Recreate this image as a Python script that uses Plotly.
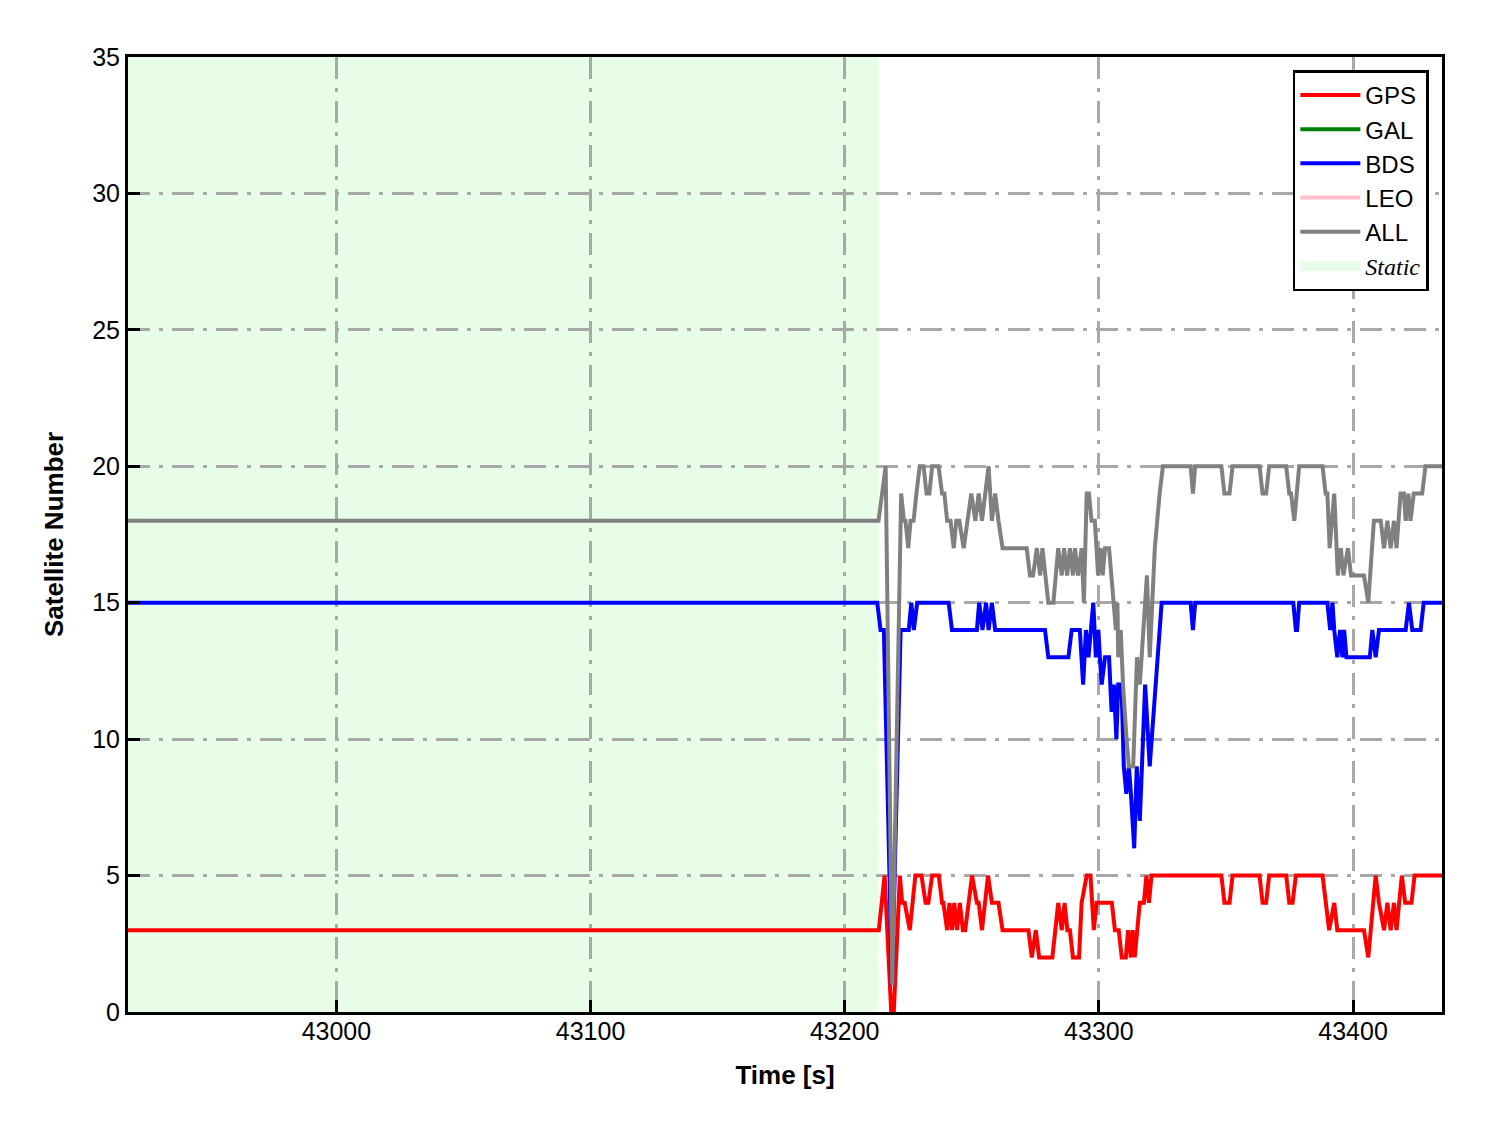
import plotly.graph_objects as go

# ---------------- data ----------------
gps_t = [42918, 43213.4, 43215.7, 43218.3, 43219.3, 43221.7, 43222.6, 43223.6, 43225.6, 43227.8,
         43230.2, 43231.8, 43232.9, 43234.4, 43237.0, 43238.3, 43238.8, 43240.3, 43241.2, 43242.2,
         43243.1, 43244.2, 43245.3, 43246.5, 43247.4, 43250.1, 43252.0, 43252.7, 43254.0, 43256.4,
         43257.9, 43260.5, 43262.1, 43272.3, 43273.6, 43275.2, 43276.5, 43281.7, 43284.0, 43285.4,
         43286.5, 43287.6, 43288.6, 43289.8, 43292.2, 43293.2, 43295.2, 43296.7, 43298.0, 43299.1,
         43305.1, 43306.3, 43307.8, 43309.0, 43310.6, 43311.5, 43312.6, 43313.3, 43314.1, 43315.1,
         43316.1, 43317.7, 43318.7, 43319.7, 43320.7, 43348.2, 43349.4, 43351.4, 43352.6, 43363.2,
         43364.4, 43365.8, 43367.0, 43373.7, 43374.9, 43376.2, 43377.5, 43388.0, 43389.3, 43390.6,
         43392.6, 43393.8, 43404.3, 43406.0, 43408.9, 43410.2, 43412.2, 43413.5, 43414.8, 43416.1,
         43417.1, 43419.2, 43420.5, 43423.0, 43424.2, 43435]
gps_n = [3, 3, 5, 0, 0, 5, 4, 4, 3, 5,
         5, 4, 4, 5, 5, 4, 4, 3, 4, 3,
         4, 3, 4, 3, 3, 5, 4, 4, 3, 5,
         4, 4, 3, 3, 2, 3, 2, 2, 4, 3,
         4, 3, 3, 2, 2, 4, 5, 5, 3, 4,
         4, 3, 3, 2, 2, 3, 2, 3, 2, 3,
         4, 4, 5, 4, 5, 5, 4, 4, 5, 5,
         4, 4, 5, 5, 4, 4, 5, 5, 4, 3,
         4, 3, 3, 2, 5, 4, 3, 4, 3, 4,
         3, 5, 4, 4, 5, 5]

gal_t = [None]
gal_n = [None]

bds_t = [42918, 43212.8, 43214.1, 43215.4, 43218.6, 43222.0, 43225.2, 43226.2, 43227.2, 43228.5,
         43240.9, 43242.2, 43252.0, 43252.9, 43254.2, 43255.6, 43256.6, 43257.9, 43259.2, 43278.8,
         43280.1, 43288.0, 43289.3, 43292.5, 43293.8, 43294.9, 43295.9, 43296.7, 43297.8, 43298.8,
         43299.8, 43300.4, 43301.1, 43302.4, 43304.0, 43305.0, 43305.9, 43306.9, 43307.6, 43308.9,
         43309.8, 43310.8, 43311.8, 43312.6, 43313.9, 43314.9, 43316.1, 43318.2, 43320.0, 43324.7,
         43336.1, 43337.0, 43337.9, 43376.5, 43377.5, 43378.0, 43378.8, 43389.9, 43391.0, 43391.9,
         43392.6, 43393.8, 43394.9, 43395.8, 43396.5, 43397.4, 43406.6, 43407.6, 43408.9, 43410.2,
         43420.7, 43422.0, 43423.3, 43426.6, 43427.8, 43435]
bds_n = [15, 15, 14, 14, 1, 14, 14, 15, 14, 15,
         15, 14, 14, 15, 14, 15, 14, 15, 14, 14,
         13, 13, 14, 14, 12, 14, 13, 14, 15, 13,
         14, 13, 12, 13, 13, 11, 12, 10, 12, 12,
         9, 8, 9, 8, 6, 9, 7, 12, 9, 15,
         15, 14, 15, 15, 14, 14, 15, 15, 14, 15,
         14, 13, 14, 13, 14, 13, 13, 14, 13, 14,
         14, 15, 14, 14, 15, 15]

leo_t = [None]
leo_n = [None]

all_t = [42918, 43213.3, 43216.1, 43218.7, 43222.2, 43223.3, 43223.9, 43225.0, 43225.9, 43227.1,
         43228.2, 43229.5, 43231.0, 43232.2, 43233.3, 43234.4, 43236.9, 43238.3, 43239.2, 43240.3,
         43241.6, 43242.9, 43243.9, 43245.1, 43246.8, 43248.2, 43249.8, 43251.4, 43252.7, 43254.0,
         43256.6, 43257.9, 43259.2, 43260.5, 43262.1, 43271.6, 43272.9, 43274.1, 43275.6, 43276.9,
         43277.8, 43280.1, 43282.1, 43284.0, 43285.4, 43286.3, 43287.5, 43288.6, 43289.8, 43290.6,
         43291.8, 43293.2, 43294.1, 43295.2, 43296.1, 43297.1, 43298.4, 43299.7, 43300.7, 43301.5,
         43302.4, 43304.0, 43305.6, 43306.7, 43307.3, 43307.6, 43308.6, 43309.5, 43310.9, 43311.8,
         43313.5, 43315.0, 43316.1, 43317.4, 43318.9, 43320.0, 43322.0, 43323.9, 43325.2, 43336.1,
         43337.0, 43337.9, 43348.2, 43349.4, 43351.4, 43352.6, 43363.2, 43364.4, 43365.8, 43367.0,
         43373.7, 43374.9, 43375.6, 43376.9, 43378.8, 43388.0, 43389.2, 43389.9, 43390.8, 43392.6,
         43394.0, 43395.2, 43396.2, 43398.0, 43399.2, 43404.3, 43406.0, 43408.2, 43410.9, 43412.2,
         43413.5, 43414.8, 43416.1, 43417.1, 43418.7, 43420.0, 43420.7, 43421.8, 43422.6, 43423.9,
         43427.2, 43428.5, 43435]
all_n = [18, 18, 20, 1, 19, 18, 18, 17, 18, 18,
         19, 20, 20, 19, 19, 20, 20, 19, 19, 18,
         18, 17, 18, 18, 17, 18, 19, 18, 19, 18,
         20, 18, 19, 18, 17, 17, 16, 16, 17, 16,
         17, 15, 15, 17, 16, 17, 16, 17, 16, 17,
         16, 17, 15, 19, 19, 18, 18, 16, 17, 16,
         17, 17, 15, 14, 15, 13, 14, 12, 10, 9,
         9, 13, 12, 14, 16, 13, 17, 19, 20, 20,
         19, 20, 20, 19, 19, 20, 20, 19, 19, 20,
         20, 19, 19, 18, 20, 20, 19, 19, 17, 19,
         16, 17, 16, 17, 16, 16, 15, 18, 18, 17,
         18, 17, 18, 17, 19, 19, 18, 19, 18, 19,
         19, 20, 20]

static_start = 42918
static_end = 43213.3

series_names = ["GPS", "GAL", "BDS", "LEO", "ALL"]
x_ticks = [43000, 43100, 43200, 43300, 43400]
y_ticks = [0, 5, 10, 15, 20, 25, 30, 35]

# ---------------- figure ----------------
FONT = "Liberation Sans, Arial, sans-serif"
colors = {"GPS": "#ff0000", "GAL": "#008000", "BDS": "#0000ff", "LEO": "#ffc0cb", "ALL": "#808080"}
data = {"GPS": (gps_t, gps_n), "GAL": (gal_t, gal_n), "BDS": (bds_t, bds_n),
        "LEO": (leo_t, leo_n), "ALL": (all_t, all_n)}

fig = go.Figure()
for name in series_names:
    t, n = data[name]
    fig.add_trace(go.Scatter(x=t, y=n, mode="lines", name=name,
                             line=dict(color=colors[name], width=4)))

static_fill = "rgb(232,253,232)"
# legend entry for the static period (patch)
fig.add_trace(go.Scatter(x=[None], y=[None], mode="lines",
                         line=dict(width=20, color=static_fill),
                         name='<i><span style="font-family:Liberation Serif">Static</span></i>'))

fig.add_shape(type="rect", xref="x", yref="y", x0=static_start, x1=static_end,
              y0=0, y1=35, fillcolor=static_fill, line=dict(width=0), layer="below")

axis_common = dict(
    showline=True, linecolor="black", linewidth=3, mirror=True,
    ticks="inside", ticklen=12, tickwidth=2.5, tickcolor="black",
    showgrid=True, gridcolor="#a8a8a8", gridwidth=2.5, griddash="22px,9px,4px,9px",
    zeroline=False, tickfont=dict(family=FONT, size=25, color="black"),
)

fig.update_xaxes(range=[42918, 43435], tickvals=x_ticks, ticktext=[str(v) for v in x_ticks],
                 title=dict(text="<b>Time [s]</b>", font=dict(family=FONT, size=26, color="black"),
                            standoff=22),
                 ticklabelstandoff=-5,
                 **axis_common)
fig.update_yaxes(range=[0, 35], tickvals=y_ticks, ticktext=[str(v) for v in y_ticks],
                 title=dict(text="<b>Satellite Number</b>", font=dict(family=FONT, size=26, color="black"),
                            standoff=22),
                 **axis_common)

fig.update_layout(
    width=1488, height=1133,
    margin=dict(l=120, r=54, t=49, b=129),
    paper_bgcolor="white", plot_bgcolor="white",
    font=dict(family=FONT, color="black"),
    showlegend=True,
    legend=dict(x=0.990, y=0.986, xanchor="right", yanchor="top",
                bgcolor="white", bordercolor="black", borderwidth=2.5,
                font=dict(family=FONT, size=24, color="black"),
                traceorder="normal", itemwidth=60),
)

fig.write_html("out.html")
